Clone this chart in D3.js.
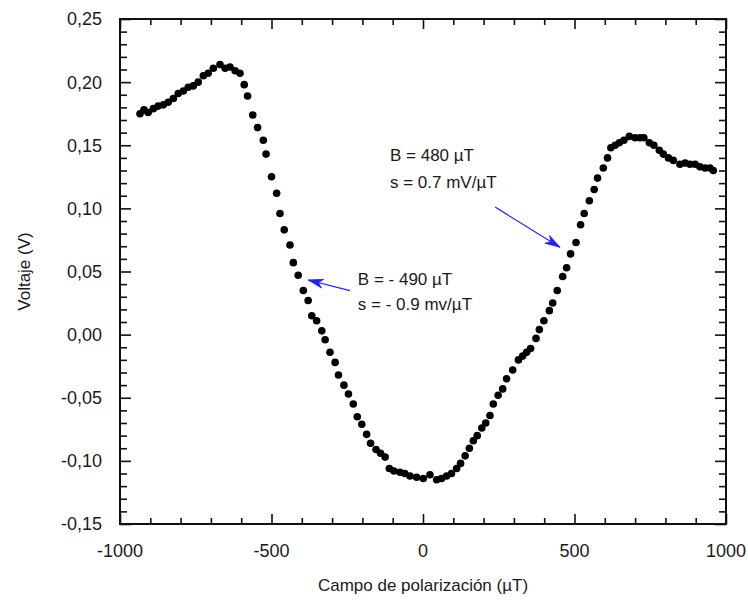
<!DOCTYPE html>
<html>
<head>
<meta charset="utf-8">
<script src="https://cdn.jsdelivr.net/npm/d3@7"></script>
<style>
  html, body { margin: 0; padding: 0; background: #fff; }
  svg { display: block; }
  text { font-family: "Liberation Sans", Arial, sans-serif; fill: #1a1a1a; }
</style>
</head>
<body>
<svg id="chart" width="748" height="608"></svg>
<script>
// ---- data ----
const fieldUT = [
  -934,-921,-907,-890,-874,-857,-841,-824,-808,-791,-775,-758,-742,-725,-709,-692,-670,-653,-637,-620,-604,
  -590,-579,-562,-546,-527,-518,-500,-483,-472,-458,-439,-428,-412,-395,-379,-367,-351,-334,-323,-307,
  -290,-279,-261,-246,-230,-217,-202,-186,-173,-155,-140,-125,-111,-96,-76,-60,-43,-21,1,23,
  45,61,78,94,111,124,139,153,166,179,194,207,221,232,248,263,276,296,315,329,
  342,355,373,384,399,417,428,443,461,474,487,505,520,532,549,565,576,595,609,620,
  634,648,663,681,700,716,729,747,762,780,793,810,826,848,865,881,898,914,931,947,958
];
const voltageV = [
  0.175,0.178,0.176,0.179,0.181,0.182,0.184,0.187,0.191,0.193,0.196,0.197,0.200,0.205,0.207,0.211,0.214,0.211,0.212,0.209,0.207,
  0.198,0.189,0.174,0.164,0.154,0.143,0.125,0.112,0.096,0.083,0.071,0.057,0.047,0.035,0.027,0.015,0.011,0.003,-0.004,-0.014,
  -0.022,-0.032,-0.040,-0.047,-0.055,-0.065,-0.071,-0.079,-0.086,-0.091,-0.094,-0.097,-0.106,-0.108,-0.109,-0.110,-0.112,-0.113,-0.114,-0.111,
  -0.115,-0.114,-0.112,-0.110,-0.106,-0.102,-0.096,-0.090,-0.084,-0.080,-0.074,-0.070,-0.064,-0.055,-0.048,-0.043,-0.035,-0.028,-0.020,-0.017,
  -0.014,-0.011,-0.003,0.004,0.011,0.019,0.025,0.035,0.046,0.053,0.064,0.073,0.087,0.096,0.106,0.115,0.124,0.132,0.140,0.148,
  0.150,0.152,0.154,0.157,0.156,0.156,0.156,0.152,0.150,0.146,0.143,0.140,0.138,0.135,0.136,0.135,0.135,0.133,0.132,0.132,0.130
];
const xMajorTicks = [-1000, -500, 0, 500, 1000];
const xTickLabels = ["-1000", "-500", "0", "500", "1000"];
const xMinorTicks = [-900,-800,-700,-600,-400,-300,-200,-100,100,200,300,400,600,700,800,900];
const yMajorTicks = [-0.15, -0.10, -0.05, 0.00, 0.05, 0.10, 0.15, 0.20, 0.25];
const yTickLabels = ["-0,15", "-0,10", "-0,05", "0,00", "0,05", "0,10", "0,15", "0,20", "0,25"];
const yMinorTicks = [-0.14,-0.13,-0.12,-0.11,-0.09,-0.08,-0.07,-0.06,-0.04,-0.03,-0.02,-0.01,
                     0.01,0.02,0.03,0.04,0.06,0.07,0.08,0.09,0.11,0.12,0.13,0.14,0.16,0.17,0.18,0.19,0.21,0.22,0.23,0.24];
const xTitle = "Campo de polarización (µT)";
const yTitle = "Voltaje (V)";
// annotations: [field, voltage] in data units
const annotLeftText = ["B = - 490 µT", "s = - 0.9 mv/µT"];
const annotLeftTextPos = [-215, 0.0393, 0.0195];
const annotLeftArrow = [[-241, 0.0348], [-379, 0.0433]];
const annotRightText = ["B = 480 µT", "s = 0.7 mV/µT"];
const annotRightTextPos = [-109, 0.1375, 0.116];
const annotRightArrow = [[238, 0.101], [452, 0.0692]];

// ---- layout ----
const L = 120, R = 726, T = 19, B = 524;
const svg = d3.select("#chart");
const x = d3.scaleLinear().domain([-1000, 1000]).range([L, R]);
const y = d3.scaleLinear().domain([-0.15, 0.25]).range([B, T]);

const axisColor = "#111";
function styleAxis(g) {
  g.selectAll("path.domain").remove();
  g.selectAll("line").attr("stroke", axisColor).attr("stroke-width", 1.6);
  g.selectAll("text").remove();
}
// major & minor ticks on all four sides (inward)
svg.append("g").attr("transform", `translate(0,${B})`)
  .call(d3.axisBottom(x).tickValues(xMajorTicks).tickSize(-10)).call(styleAxis);
svg.append("g").attr("transform", `translate(0,${B})`)
  .call(d3.axisBottom(x).tickValues(xMinorTicks).tickSize(-6)).call(styleAxis);
svg.append("g").attr("transform", `translate(0,${T})`)
  .call(d3.axisTop(x).tickValues(xMajorTicks).tickSize(-10)).call(styleAxis);
svg.append("g").attr("transform", `translate(0,${T})`)
  .call(d3.axisTop(x).tickValues(xMinorTicks).tickSize(-6)).call(styleAxis);
svg.append("g").attr("transform", `translate(${L},0)`)
  .call(d3.axisLeft(y).tickValues(yMajorTicks).tickSize(-11)).call(styleAxis);
svg.append("g").attr("transform", `translate(${L},0)`)
  .call(d3.axisLeft(y).tickValues(yMinorTicks).tickSize(-7)).call(styleAxis);
svg.append("g").attr("transform", `translate(${R},0)`)
  .call(d3.axisRight(y).tickValues(yMajorTicks).tickSize(-11)).call(styleAxis);
svg.append("g").attr("transform", `translate(${R},0)`)
  .call(d3.axisRight(y).tickValues(yMinorTicks).tickSize(-7)).call(styleAxis);

// frame
svg.append("rect").attr("x", L).attr("y", T).attr("width", R - L).attr("height", B - T)
  .attr("fill", "none").attr("stroke", axisColor).attr("stroke-width", 2);

// tick labels
svg.append("g").selectAll("text").data(xMajorTicks).join("text")
  .attr("x", d => x(d)).attr("y", B + 33).attr("text-anchor", "middle")
  .style("font-size", "18px").text((d, i) => xTickLabels[i]);
svg.append("g").selectAll("text").data(yMajorTicks).join("text")
  .attr("x", L - 18).attr("y", d => y(d)).attr("dy", "0.36em").attr("text-anchor", "end")
  .style("font-size", "18px").text((d, i) => yTickLabels[i]);

// axis titles
svg.append("text").attr("x", (L + R) / 2).attr("y", 591).attr("text-anchor", "middle")
  .style("font-size", "17px").text(xTitle);
svg.append("text").attr("transform", `translate(30,${(T + B) / 2}) rotate(-90)`)
  .attr("text-anchor", "middle").style("font-size", "17px").text(yTitle);

// points
svg.append("g").selectAll("circle").data(fieldUT).join("circle")
  .attr("cx", d => x(d)).attr("cy", (d, i) => y(voltageV[i])).attr("r", 3.8).attr("fill", "#000");

// annotations
const blue = "#1f1fff";
function arrow(pts) {
  const [x0, y0] = [x(pts[0][0]), y(pts[0][1])];
  const [x1, y1] = [x(pts[1][0]), y(pts[1][1])];
  svg.append("line").attr("x1", x0).attr("y1", y0).attr("x2", x1).attr("y2", y1)
    .attr("stroke", blue).attr("stroke-width", 1.2);
  const a = Math.atan2(y1 - y0, x1 - x0);
  const len = 15, w = 4.5;
  const bx = x1 - len * Math.cos(a), by = y1 - len * Math.sin(a);
  const mx = x1 - 0.7 * len * Math.cos(a), my = y1 - 0.7 * len * Math.sin(a);
  const p1 = [bx + w * Math.sin(a), by - w * Math.cos(a)];
  const p2 = [bx - w * Math.sin(a), by + w * Math.cos(a)];
  svg.append("path").attr("d", `M${x1},${y1}L${p1[0]},${p1[1]}L${mx},${my}L${p2[0]},${p2[1]}Z`)
    .attr("fill", blue).attr("stroke", blue).attr("stroke-width", 0.8);
}
function label(lines, pos) {
  lines.forEach((t, i) => {
    svg.append("text").attr("x", x(pos[0])).attr("y", y(pos[1 + i]))
      .style("font-size", "17px").text(t);
  });
}
arrow(annotLeftArrow);
arrow(annotRightArrow);
label(annotLeftText, annotLeftTextPos);
label(annotRightText, annotRightTextPos);
</script>
</body>
</html>
